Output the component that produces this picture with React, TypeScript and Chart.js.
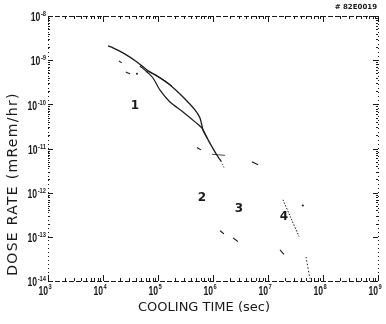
import React, { useEffect, useRef } from "react";
import { Chart, registerables } from "chart.js";

Chart.register(...registerables);

// Axis decades (exponents)
const xDecades = [3, 4, 5, 6, 7, 8, 9];
const yDecades = [-8, -9, -10, -11, -12, -13, -14];

// Curve 1 — upper branch (cooling time sec, dose rate mRem/hr)
const mainTimes = [1.23e4, 1.52e4, 2.31e4, 4.15e4, 6.3e4, 9.6e4, 1.65e5, 2.85e5, 4.7e5, 5.8e5, 6.6e5, 7.8e5, 9.6e5, 1.23e6, 1.4e6];
const mainRates = [2.1e-9, 1.9e-9, 1.46e-9, 9.1e-10, 6.0e-10, 4.4e-10, 2.75e-10, 1.47e-10, 7.5e-11, 4.9e-11, 2.6e-11, 1.74e-11, 1.09e-11, 6.5e-12, 5.2e-12];

// Curve 1 — lower branch
const lowerTimes = [4.7e4, 6.3e4, 8.1e4, 1.09e5, 1.65e5, 2.85e5, 4.7e5, 6.3e5, 7.8e5];
const lowerRates = [7.4e-10, 5.4e-10, 3.95e-10, 2.1e-10, 1.13e-10, 6.7e-11, 4.0e-11, 2.9e-11, 1.74e-11];

// Curve 1 — small lens branch
const lensTimes = [6.3e4, 8.8e4, 1.34e5, 1.8e5];
const lensRates = [5.7e-10, 4.6e-10, 3.4e-10, 2.6e-10];

// Curve 1 — dotted tail and cross mark
const tailTimes = [1.4e6, 1.6e6];
const tailRates = [5.2e-12, 3.6e-12];
const crossTimes = [9.6e5, 1.65e6];
const crossRates = [7.4e-12, 7.0e-12];

// Curve 4 — dotted segments
const c4Times = [1.87e7, 2.6e7, 3.66e7];
const c4Rates = [6.9e-13, 2.7e-13, 1.02e-13];
const c4bTimes = [4.9e7, 5.8e7];
const c4bRates = [3.5e-14, 1.12e-14];

// Short isolated dash marks (start/end)
const dashStartTimes = [1.95e4, 2.6e4, 5.1e5, 5.1e6, 1.34e6, 2.31e6, 1.65e7];
const dashEndTimes = [2.2e4, 3.1e4, 6.05e5, 6.6e6, 1.58e6, 2.85e6, 1.95e7];
const dashStartRates = [9.6e-10, 5.4e-10, 1.05e-11, 5.0e-12, 1.38e-13, 9.5e-14, 5.1e-14];
const dashEndRates = [8.7e-10, 4.9e-10, 9.3e-12, 4.3e-12, 1.17e-13, 7.8e-14, 4.0e-14];

// Isolated dots
const dotTimes = [4.15e4, 4.3e7];
const dotRates = [4.9e-10, 5.1e-13];

// Curve number labels
const curveLabels = ["1", "2", "3", "4"];
const labelTimes = [3.8e4, 6.3e5, 2.97e6, 1.95e7];
const labelRates = [9.1e-11, 7.6e-13, 4.3e-13, 2.9e-13];

const pts = (xs: number[], ys: number[]) => xs.map((x, i) => ({ x, y: ys[i] }));

const INK = "#1a1a1a";

const framePlugin = {
  id: "frame",
  afterDraw(chart: any) {
    const { ctx, chartArea } = chart;
    const { left, right, top, bottom } = chartArea;
    const xs = chart.scales.x;
    const ys = chart.scales.y;
    ctx.save();
    ctx.strokeStyle = INK;
    ctx.fillStyle = INK;
    ctx.lineWidth = 1;

    // frame
    ctx.setLineDash([5, 2]);
    ctx.beginPath();
    ctx.moveTo(left, top + 0.5);
    ctx.lineTo(right, top + 0.5);
    ctx.moveTo(left, bottom + 0.5);
    ctx.lineTo(right, bottom + 0.5);
    ctx.stroke();
    ctx.setLineDash([1, 3]);
    ctx.beginPath();
    ctx.moveTo(left + 0.5, top);
    ctx.lineTo(left + 0.5, bottom);
    ctx.moveTo(right + 0.5, top);
    ctx.lineTo(right + 0.5, bottom);
    ctx.stroke();
    ctx.setLineDash([]);

    // ticks
    ctx.beginPath();
    for (let i = 0; i < xDecades.length; i++) {
      const d = Math.pow(10, xDecades[i]);
      const px = Math.round(xs.getPixelForValue(d)) + 0.5;
      ctx.moveTo(px, bottom);
      ctx.lineTo(px, bottom - 6);
      ctx.moveTo(px, top);
      ctx.lineTo(px, top + 6);
      if (i < xDecades.length - 1) {
        for (let m = 2; m <= 9; m++) {
          const qx = Math.round(xs.getPixelForValue(d * m)) + 0.5;
          ctx.moveTo(qx, bottom);
          ctx.lineTo(qx, bottom - 3);
          ctx.moveTo(qx, top);
          ctx.lineTo(qx, top + 3);
        }
      }
    }
    for (let i = 0; i < yDecades.length; i++) {
      const d = Math.pow(10, yDecades[i]);
      const py = Math.round(ys.getPixelForValue(d)) + 0.5;
      ctx.moveTo(left, py);
      ctx.lineTo(left + 5, py);
      ctx.moveTo(right, py);
      ctx.lineTo(right - 5, py);
      if (i < yDecades.length - 1) {
        for (let m = 2; m <= 9; m++) {
          const qy = Math.round(ys.getPixelForValue(d * m)) + 0.5;
          if (qy < top) continue;
          ctx.moveTo(left, qy);
          ctx.lineTo(left + 2, qy);
          ctx.moveTo(right, qy);
          ctx.lineTo(right - 2, qy);
        }
      }
    }
    ctx.stroke();

    const FONT = '"Liberation Sans", Arial, sans-serif';
    const drawNarrow = (text: string, x: number, y: number, size: number, align: string) => {
      ctx.save();
      ctx.font = `bold ${size}px ${FONT}`;
      const w = ctx.measureText(text).width * 0.72;
      ctx.translate(align === "right" ? x - w : x, y);
      ctx.scale(0.72, 1);
      ctx.textAlign = "left";
      ctx.textBaseline = "middle";
      ctx.fillText(text, 0, 0);
      ctx.restore();
      return w;
    };
    const measureNarrow = (text: string, size: number) => {
      ctx.save();
      ctx.font = `bold ${size}px ${FONT}`;
      const w = ctx.measureText(text).width * 0.72;
      ctx.restore();
      return w;
    };

    // y tick labels
    for (const e of yDecades) {
      const py = ys.getPixelForValue(Math.pow(10, e));
      const sup = String(e);
      const sw = measureNarrow(sup, 8);
      drawNarrow(sup, 46 - sw, py - 2, 8, "left");
      drawNarrow("10", 46 - sw - 0.5, py + 2, 12, "right");
    }
    // x tick labels
    for (const e of xDecades) {
      const px = xs.getPixelForValue(Math.pow(10, e));
      drawNarrow("10", px, bottom + 11, 12, "right");
      drawNarrow(String(e), px + 0.5, bottom + 6, 8, "left");
    }

    // curve labels
    ctx.font = 'bold 12px "DejaVu Sans", sans-serif';
    ctx.textAlign = "center";
    ctx.textBaseline = "middle";
    for (let i = 0; i < curveLabels.length; i++) {
      ctx.fillText(curveLabels[i], xs.getPixelForValue(labelTimes[i]), ys.getPixelForValue(labelRates[i]));
    }

    // axis titles
    ctx.font = '13px "DejaVu Sans", sans-serif';
    ctx.fillText("COOLING TIME (sec)", 204, 308);
    ctx.save();
    ctx.translate(13, 184);
    ctx.rotate(-Math.PI / 2);
    ctx.font = '14px "DejaVu Sans", sans-serif';
    (ctx as any).letterSpacing = "1.3px";
    ctx.fillText("DOSE RATE (mRem/hr)", 0, 0);
    ctx.restore();

    // header id
    ctx.font = 'bold 7px "DejaVu Sans", sans-serif';
    ctx.textAlign = "right";
    ctx.fillText("# 82E0019", 377, 7);
    ctx.restore();
  },
};

export default function App() {
  const ref = useRef<HTMLCanvasElement | null>(null);
  useEffect(() => {
    document.body.style.margin = "0";
    const line = (xs: number[], ys: number[], width: number, dash: number[] = [], tension = 0.3) => ({
      data: pts(xs, ys),
      borderColor: INK,
      borderWidth: width,
      borderDash: dash,
      pointRadius: 0,
      tension,
      fill: false,
    });
    const dashSets = dashStartTimes.map((t, i) =>
      line([t, dashEndTimes[i]], [dashStartRates[i], dashEndRates[i]], 1.1)
    );
    const chart = new Chart(ref.current as HTMLCanvasElement, {
      type: "line",
      data: {
        datasets: [
          line(mainTimes, mainRates, 1.3, [], 0.25),
          line(lowerTimes, lowerRates, 1.2, [], 0.25),
          line(lensTimes, lensRates, 1, [], 0.2),
          line(tailTimes, tailRates, 1, [1, 2]),
          line(crossTimes, crossRates, 0.8),
          line(c4Times, c4Rates, 1, [1.5, 1.5]),
          line(c4bTimes, c4bRates, 1, [1.5, 2]),
          ...dashSets,
          {
            data: pts(dotTimes, dotRates),
            showLine: false,
            pointRadius: 1,
            pointBackgroundColor: INK,
            pointBorderWidth: 0,
          },
        ] as any,
      },
      options: {
        animation: false,
        responsive: false,
        devicePixelRatio: 1,
        layout: { padding: { left: 48, right: 8, top: 16, bottom: 43 } },
        plugins: { legend: { display: false }, tooltip: { enabled: false } },
        scales: {
          x: { type: "logarithmic", min: 1e3, max: 1e9, display: false },
          y: { type: "logarithmic", min: 1e-14, max: 1e-8, display: false },
        },
      },
      plugins: [framePlugin],
    });
    return () => chart.destroy();
  }, []);
  return (
    <div style={{ width: 386, height: 324, background: "#fff" }}>
      <canvas ref={ref} width={386} height={324} />
    </div>
  );
}
